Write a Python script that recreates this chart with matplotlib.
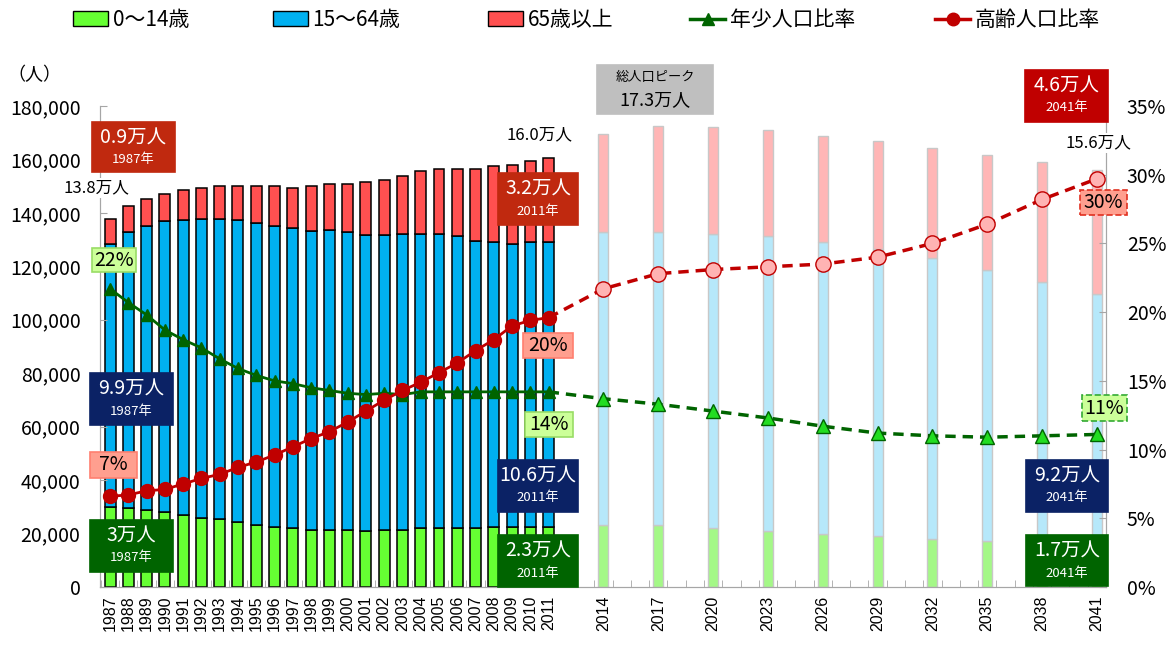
import matplotlib
matplotlib.use('Agg')
import matplotlib.pyplot as plt
from matplotlib.patches import Patch, Rectangle
from matplotlib.lines import Line2D
import numpy as np

plt.rcParams['font.family'] = ['Noto Sans CJK JP', 'DejaVu Sans']

# 実績 (1987-2011)
years_hist = [1987, 1988, 1989, 1990, 1991, 1992, 1993, 1994, 1995, 1996, 1997, 1998, 1999,
              2000, 2001, 2002, 2003, 2004, 2005, 2006, 2007, 2008, 2009, 2010, 2011]
young_hist = [30000, 29400, 28800, 27900, 26900, 25700, 25300, 24200, 23200, 22500, 22000, 21500, 21500,
              21500, 21000, 21500, 21500, 22000, 22000, 22000, 22000, 22500, 22500, 22500, 22500]
working_hist = [98500, 103300, 106400, 108900, 110400, 112200, 112600, 113100, 113100, 112700, 112300, 111700, 112200,
                111200, 110700, 110200, 110700, 110200, 110200, 109200, 107600, 106600, 106000, 106600, 106600]
elderly_hist = [9400, 9900, 9900, 10400, 11400, 11500, 12300, 12900, 13600, 14700, 15100, 16700, 17200,
                18200, 19700, 20700, 21600, 23300, 24300, 25300, 26900, 28400, 29600, 30500, 31600]
young_ratio_hist = [21.7, 20.7, 19.8, 18.7, 18.0, 17.4, 16.6, 15.9, 15.4, 15.0, 14.8, 14.5, 14.3,
                    14.1, 14.0, 14.1, 14.0, 14.2, 14.2, 14.2, 14.2, 14.2, 14.2, 14.2, 14.2]
elderly_ratio_hist = [6.6, 6.7, 7.0, 7.1, 7.5, 7.9, 8.2, 8.7, 9.1, 9.6, 10.2, 10.8, 11.3,
                      12.0, 12.8, 13.6, 14.3, 14.9, 15.6, 16.3, 17.2, 18.0, 19.0, 19.4, 19.6]

# 推計 (2014-2041)
years_fut = [2014, 2017, 2020, 2023, 2026, 2029, 2032, 2035, 2038, 2041]
young_fut = [23300, 23300, 22200, 21000, 20000, 19000, 17900, 17400, 17200, 17000]
working_fut = [109400, 109700, 110000, 110200, 109100, 107500, 105400, 101200, 96800, 92500]
elderly_fut = [36800, 39500, 39800, 39800, 39800, 40400, 41000, 43100, 45200, 46400]
young_ratio_fut = [13.7, 13.3, 12.8, 12.3, 11.7, 11.2, 11.0, 10.9, 11.0, 11.1]
elderly_ratio_fut = [21.7, 22.8, 23.1, 23.3, 23.5, 24.0, 25.0, 26.4, 28.2, 29.7]

W, H = 1172, 647
fig = plt.figure(figsize=(W / 100, H / 100), dpi=100)
ax = fig.add_axes([100 / W, 1 - 587 / H, (1106 - 100) / W, (587 - 106) / H])
ax2 = ax.twinx()

# 棒グラフ
yh = np.array(young_hist)
wh = np.array(working_hist)
eh = np.array(elderly_hist)
ax.bar(years_hist, yh, 0.6, color='#66FF33', edgecolor='black', lw=1.1)
ax.bar(years_hist, wh, 0.6, bottom=yh, color='#00B0F0', edgecolor='black', lw=1.1)
ax.bar(years_hist, eh, 0.6, bottom=yh + wh, color='#FF5050', edgecolor='black', lw=1.1)

yf = np.array(young_fut)
wf = np.array(working_fut)
ef = np.array(elderly_fut)
ax.bar(years_fut, yf, 0.55, color='#A4F887', edgecolor='#C8C8C8', lw=1)
ax.bar(years_fut, wf, 0.55, bottom=yf, color='#B6E8FA', edgecolor='#C8C8C8', lw=1)
ax.bar(years_fut, ef, 0.55, bottom=yf + wf, color='#FFB6B6', edgecolor='#C8C8C8', lw=1)

# 比率の折れ線
ax2.plot(years_hist, young_ratio_hist, color='#006400', lw=2, marker='^', ms=9, zorder=3)
ax2.plot(years_hist, elderly_ratio_hist, color='#C00000', lw=2, marker='o', ms=10, zorder=4)
ax2.plot([years_hist[-1]] + years_fut, [young_ratio_hist[-1]] + young_ratio_fut, color='#006400',
         lw=2.5, ls=(0, (3, 2)), marker='^', ms=10, mfc='#22DD22', mec='#006400',
         markevery=list(range(1, 11)), zorder=3)
ax2.plot([years_hist[-1]] + years_fut, [elderly_ratio_hist[-1]] + elderly_ratio_fut, color='#C00000',
         lw=2.5, ls=(0, (3, 2)), marker='o', ms=11, mfc='#FFB3B3', mec='#C00000',
         markevery=list(range(1, 11)), zorder=4)

ax.set_xlim(1986.45, 2041.5)
ax.set_ylim(0, 180000)
ax2.set_ylim(0, 35)

ax.set_yticks(np.arange(0, 180001, 20000))
ax.set_yticklabels([f'{v:,}' for v in range(0, 180001, 20000)])
ax2.set_yticks(np.arange(0, 36, 5))
ax2.set_yticklabels([f'{v}%' for v in range(0, 36, 5)])
ax.set_xticks(years_hist + years_fut)
ax.set_xticklabels([str(y) for y in years_hist + years_fut], rotation=90,
                   family='Liberation Sans', fontsize=11.5)
ax.set_xticks(np.arange(1986.5, 2042, 1), minor=True)

for a in (ax, ax2):
    a.spines['top'].set_visible(False)
    for s in a.spines.values():
        s.set_color('#A6A6A6')
ax.tick_params(axis='y', direction='in', length=5, color='#A6A6A6', labelsize=14, pad=14)
ax2.tick_params(axis='y', direction='in', length=5, color='#A6A6A6', labelsize=14, pad=15)
ax.tick_params(axis='x', which='major', length=0, pad=6)
ax.tick_params(axis='x', which='minor', direction='in', length=5, color='#A6A6A6')

# 凡例 (項目ごとに位置を合わせる)
handles = [
    Patch(fc='#66FF33', ec='black', label='0～14歳'),
    Patch(fc='#00B0F0', ec='black', label='15～64歳'),
    Patch(fc='#FF5050', ec='black', label='65歳以上'),
    Line2D([], [], color='#006400', lw=2.5, marker='^', ms=9, label='年少人口比率'),
    Line2D([], [], color='#C00000', lw=2.5, marker='o', ms=9, label='高齢人口比率'),
]
legend_x = [73, 273, 488, 690, 935]
for h, lx in zip(handles, legend_x):
    fig.legend(handles=[h], loc='upper left', bbox_to_anchor=(lx / W, 1 - 9 / H), frameon=False,
               fontsize=15, handlelength=1.7, handletextpad=0.2, borderpad=0, borderaxespad=0)


def box(x0, y0, x1, y1, fc, ec=None, ls='-'):
    fig.add_artist(Rectangle((x0 / W, 1 - y1 / H), (x1 - x0) / W, (y1 - y0) / H,
                             transform=fig.transFigure, fc=fc, ec=ec or fc, ls=ls, lw=1.2, zorder=5))


def txt(x, y, s, size, color='black', bg=None):
    kw = {}
    if bg:
        kw['bbox'] = dict(fc=bg, ec='none', pad=1)
    fig.text(x / W, 1 - y / H, s, ha='center', va='center', fontsize=size, color=color, zorder=6, **kw)


def value_box(x0, y0, x1, y1, main, sub, fc):
    box(x0, y0, x1, y1, fc)
    cx = (x0 + x1) / 2
    txt(cx, y0 + 16, main, 14, 'white')
    txt(cx, y0 + 38, sub, 9.5, 'white')


def pct_box(x0, y0, x1, y1, s, fc, ec, ls='-'):
    box(x0, y0, x1, y1, fc, ec, ls)
    txt((x0 + x1) / 2, (y0 + y1) / 2, s, 14)


value_box(92, 122, 175, 172, '0.9万人', '1987年', '#C0290F')
value_box(90, 373, 173, 425, '9.9万人', '1987年', '#0B2265')
value_box(90, 520, 173, 572, '3万人', '1987年', '#006400')
value_box(498, 173, 578, 225, '3.2万人', '2011年', '#C0290F')
value_box(498, 460, 578, 512, '10.6万人', '2011年', '#0B2265')
value_box(498, 535, 578, 587, '2.3万人', '2011年', '#006400')
value_box(1025, 70, 1108, 122, '4.6万人', '2041年', '#C00000')
value_box(1026, 460, 1108, 512, '9.2万人', '2041年', '#0B2265')
value_box(1026, 535, 1108, 586, '1.7万人', '2041年', '#006400')

pct_box(92, 248, 136, 272, '22%', '#CCFF99', '#99DD66')
pct_box(90, 452, 137, 478, '7%', '#FF9F8F', '#FF7F6F')
pct_box(523, 333, 573, 358, '20%', '#FF9F8F', '#FF7F6F')
pct_box(525, 412, 573, 437, '14%', '#CCFF99', '#99DD66')
pct_box(1080, 190, 1127, 215, '30%', '#FF9F8F', '#E03020', '--')
pct_box(1082, 395, 1127, 421, '11%', '#CCFF99', '#33AA33', '--')

box(597, 65, 713, 114, '#BFBFBF')
txt(655, 78, '総人口ピーク', 9.5)
txt(655, 100, '17.3万人', 13)

txt(96, 188, '13.8万人', 12, bg='white')
txt(540, 135, '16.0万人', 12, bg='white')
txt(1098, 143, '15.6万人', 12, bg='white')
txt(34, 75, '（人）', 13)

fig.savefig('out.png', dpi=100)
